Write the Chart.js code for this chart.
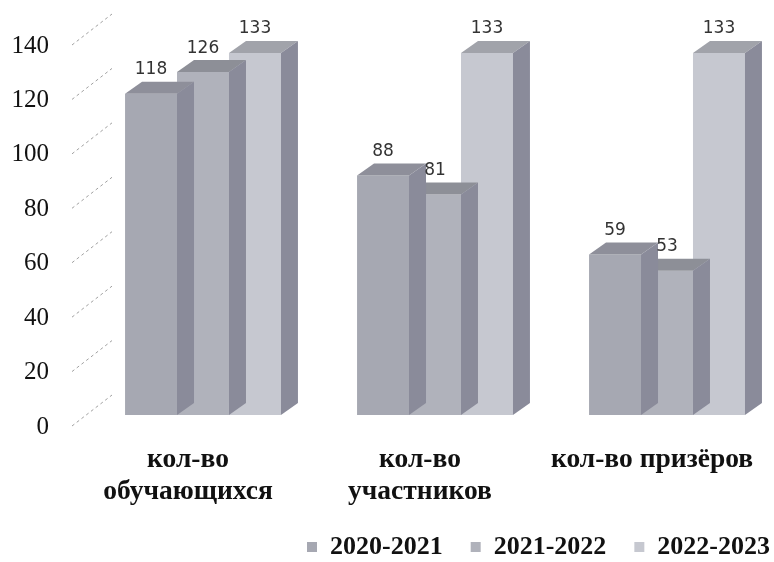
<!DOCTYPE html>
<html>
<head>
<meta charset="utf-8">
<script src="https://cdn.jsdelivr.net/npm/chart.js@4"></script>
<style>
html, body { margin: 0; padding: 0; background: #fff; }
</style>
</head>
<body>
<canvas id="chart" width="774" height="562"></canvas>
<script>
// chart data
const categories = [['кол-во', 'обучающихся'], ['кол-во', 'участников'], 'кол-во призёров'];
const seriesNames = ['2020-2021', '2021-2022', '2022-2023'];
const values2020 = [118, 88, 59];
const values2021 = [126, 81, 53];
const values2022 = [133, 133, 133];
const yTicks = [0, 20, 40, 60, 80, 100, 120, 140];

// look of the fake 3d boxes
const frontColors = ['#a6a8b2', '#b0b2bb', '#c6c8d0'];
const topColors = ['#8e8f9a', '#8d8f97', '#a1a3aa'];
const sideColor = '#8a8b9a';
const DX = 17, DY = 12;
const LABEL_SHIFT = 12;

const boxes3d = {
    id: 'boxes3d',
    afterDatasetDraw(chart, args) {
        const ctx = chart.ctx;
        const i = args.index;
        args.meta.data.forEach(bar => {
            const half = bar.width / 2;
            const x0 = bar.x - half, x1 = bar.x + half;
            const yt = bar.y, yb = bar.base;
            ctx.save();
            ctx.fillStyle = topColors[i];
            ctx.beginPath();
            ctx.moveTo(x0, yt);
            ctx.lineTo(x0 + DX, yt - DY);
            ctx.lineTo(x1 + DX, yt - DY);
            ctx.lineTo(x1, yt);
            ctx.closePath();
            ctx.fill();
            ctx.fillStyle = sideColor;
            ctx.beginPath();
            ctx.moveTo(x1, yt);
            ctx.lineTo(x1 + DX, yt - DY);
            ctx.lineTo(x1 + DX, yb - DY);
            ctx.lineTo(x1, yb);
            ctx.closePath();
            ctx.fill();
            ctx.restore();
        });
    },
    afterDatasetsDraw(chart) {
        const ctx = chart.ctx;
        ctx.save();
        ctx.fillStyle = '#333';
        ctx.font = '17px "DejaVu Sans"';
        ctx.textAlign = 'center';
        ctx.textBaseline = 'middle';
        chart.data.datasets.forEach((ds, i) => {
            chart.getDatasetMeta(i).data.forEach((bar, j) => {
                ctx.fillText(String(ds.data[j]), bar.x, bar.y - 24);
            });
        });
        ctx.restore();
    }
};

// dashed diagonal gridline stubs next to the y labels
const wallLines = {
    id: 'wallLines',
    beforeDatasetsDraw(chart) {
        const ctx = chart.ctx;
        const y = chart.scales.y;
        ctx.save();
        ctx.strokeStyle = '#a0a0a0';
        ctx.lineWidth = 1;
        ctx.setLineDash([3, 3]);
        yTicks.forEach(v => {
            const p = y.getPixelForValue(v) + LABEL_SHIFT - 1;
            ctx.beginPath();
            ctx.moveTo(72, p);
            ctx.lineTo(112, p - 31);
            ctx.stroke();
        });
        ctx.restore();
    }
};

new Chart(document.getElementById('chart').getContext('2d'), {
    type: 'bar',
    data: {
        labels: categories,
        datasets: [
            { label: seriesNames[0], data: values2020, backgroundColor: frontColors[0] },
            { label: seriesNames[1], data: values2021, backgroundColor: frontColors[1] },
            { label: seriesNames[2], data: values2022, backgroundColor: frontColors[2] }
        ]
    },
    options: {
        responsive: false,
        animation: false,
        layout: { padding: { top: 34, left: 0, right: -24, bottom: -8 } },
        datasets: {
            bar: { categoryPercentage: 0.672, barPercentage: 1, borderWidth: 0, clip: false }
        },
        scales: {
            x: {
                offset: false,
                grid: { display: false, drawTicks: false },
                border: { display: false },
                ticks: {
                    maxRotation: 0,
                    autoSkip: false,
                    padding: 29,
                    labelOffset: -15,
                    color: '#111',
                    font: { family: 'Liberation Serif', size: 27.5, weight: 'bold', lineHeight: 1.17 }
                },
                afterFit: s => { s.height = 91; s.paddingLeft = 0; s.paddingRight = 0; }
            },
            y: {
                min: 0,
                max: 140,
                afterBuildTicks: s => { s.ticks = yTicks.map(v => ({ value: v })); },
                grid: { display: false, drawTicks: false },
                border: { display: false },
                ticks: {
                    padding: 154,
                    labelOffset: LABEL_SHIFT,
                    color: '#111',
                    font: { family: 'Liberation Serif', size: 25 }
                },
                afterFit: s => { s.width = 203; s.paddingTop = 0; s.paddingBottom = 0; }
            },
            yR: {
                position: 'right',
                grid: { display: false, drawTicks: false },
                border: { display: false },
                ticks: { display: false },
                afterFit: s => { s.width = 131; s.paddingTop = 0; s.paddingBottom = 0; }
            }
        },
        plugins: {
            tooltip: { enabled: false },
            legend: {
                position: 'bottom',
                align: 'end',
                labels: {
                    boxWidth: 10,
                    boxHeight: 10,
                    padding: 28,
                    color: '#111',
                    font: { family: 'Liberation Serif', size: 26, weight: 'bold' }
                }
            }
        }
    },
    plugins: [boxes3d, wallLines]
});
</script>
</body>
</html>
